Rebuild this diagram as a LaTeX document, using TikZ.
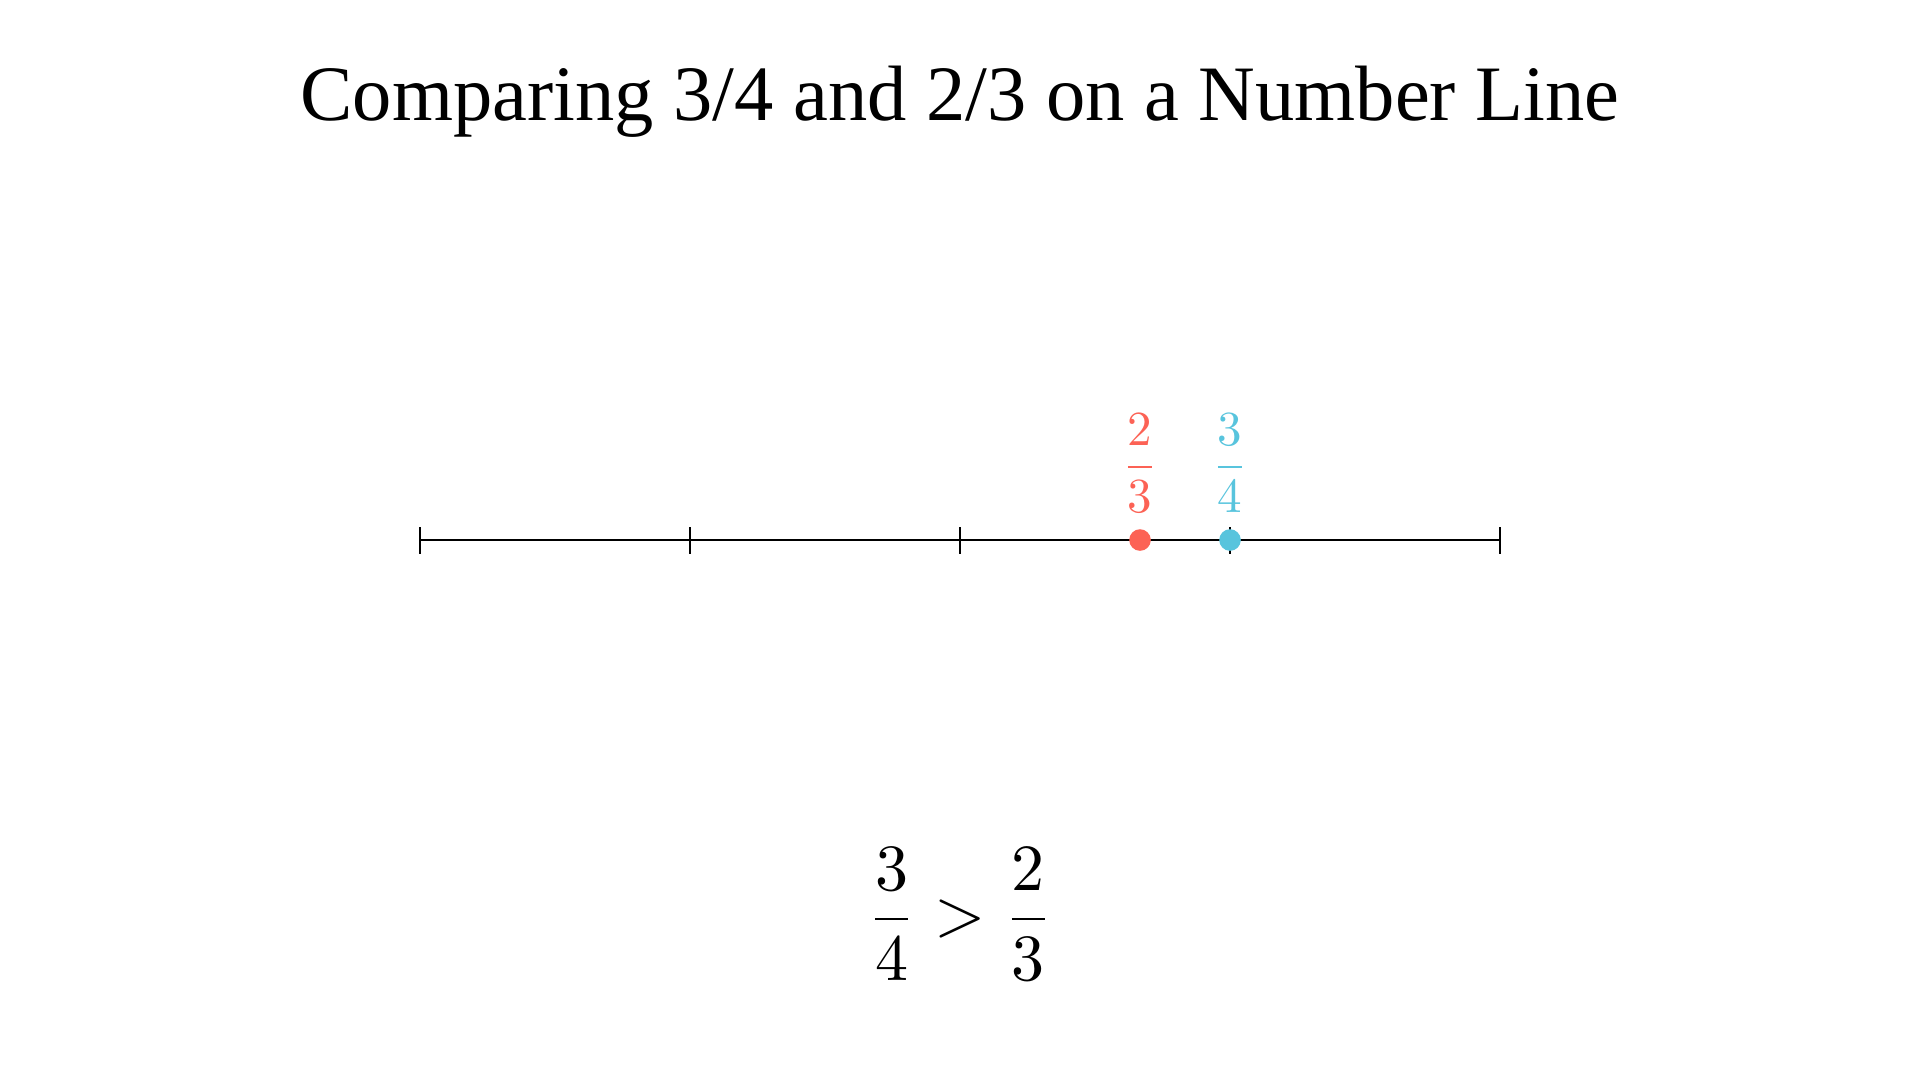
\documentclass[tikz,border=0pt]{standalone}
\usepackage{amsmath}
\usepackage[no-math]{fontspec}
\newfontfamily\titlefont{Liberation Serif}
\definecolor{mred}{HTML}{FC6255}
\definecolor{mblue}{HTML}{58C4DD}
\tikzset{
  axisline/.style={line width=2.7pt, black},
  tickmark/.style={line width=2.7pt, black},
  fracnode/.style={inner sep=0pt, outer sep=0pt, anchor=base, scale=4.9},
  dotmark/.style={circle, inner sep=0pt, minimum size=21.6pt, draw=none},
}
\begin{document}
\begin{tikzpicture}[x=1pt,y=-1pt]
\useasboundingbox (0,0) rectangle (1920,1080);
% title
\node[font=\titlefont\fontsize{78.5}{94}\selectfont, anchor=base, inner sep=0pt] (title) at (960,120) {Comparing 3/4 and 2/3 on a Number Line};
% number line
\coordinate (L) at (420,540);
\coordinate (R) at (1500,540);
\draw[axisline] (L) -- (R);
\foreach \i/\x in {0/420,1/690,2/960,3/1230,4/1500}{
  \coordinate (t\i) at (\x,540);
  \draw[tickmark] ([yshift=-13.5pt]t\i.center) -- ([yshift=13.5pt]t\i.center);
}
% dots
\node[dotmark, fill=mred] (d23) at (1140,540) {};
\node[dotmark, fill=mblue] (d34) at (1230,540) {};
% labels
\node[fracnode, text=mred] (lab23) at (1140,479) {$\dfrac{2}{3}$};
\node[fracnode, text=mblue] (lab34) at (1230,479) {$\dfrac{3}{4}$};
% comparison
\node[inner sep=0pt, anchor=base, scale=6.6] (cmp) at (960,935.5) {$\dfrac{3}{4} > \dfrac{2}{3}$};
\end{tikzpicture}
\end{document}
